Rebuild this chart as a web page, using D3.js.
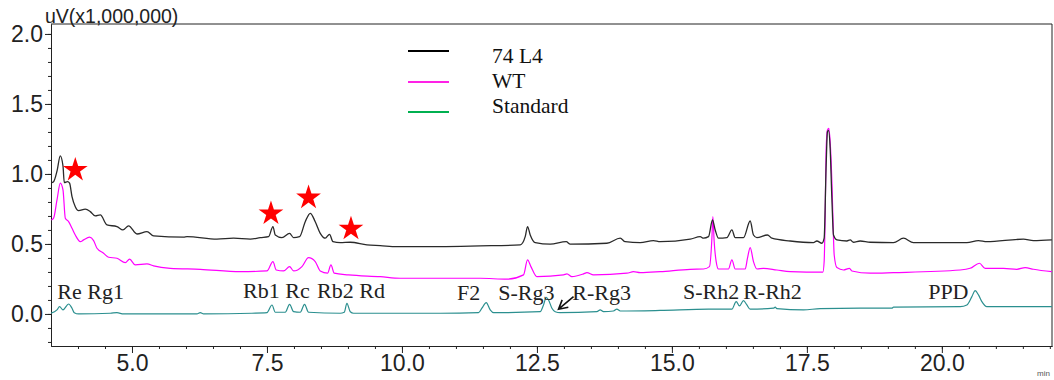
<!DOCTYPE html>
<html>
<head>
<meta charset="utf-8">
<script src="https://cdn.jsdelivr.net/npm/d3@7"></script>
<style>
  body { margin: 0; background: #fff; }
  svg { display: block; }
</style>
</head>
<body>
<svg id="chart" width="1054" height="380"></svg>
<script>
// Series names (legend order)
const seriesNames = ["74 L4", "WT", "Standard"];

// Chromatogram traces: [retention time (min), signal (uV x 1,000,000)]
const traceL4 = [
  [3.506,0.938],[3.548,0.945],[3.611,1.020],[3.672,1.129],[3.722,1.057],[3.746,0.938],
  [3.807,0.945],[3.844,0.934],[3.889,0.838],[3.950,0.766],[4.011,0.738],[4.135,0.748],
  [4.228,0.731],[4.320,0.700],[4.413,0.707],[4.537,0.636],[4.722,0.624],[4.833,0.600],
  [4.937,0.629],[5.093,0.571],[5.278,0.588],[5.400,0.557],[5.956,0.548],[6.019,0.552],
  [6.574,0.534],[6.881,0.541],[7.191,0.534],[7.376,0.545],[7.530,0.552],[7.611,0.624],
  [7.654,0.564],[7.778,0.545],[7.919,0.576],[7.993,0.545],[8.104,0.552],[8.209,0.659],
  [8.302,0.719],[8.394,0.659],[8.487,0.576],[8.580,0.541],[8.659,0.569],[8.722,0.516],
  [8.857,0.509],[9.043,0.512],[9.352,0.493],[9.598,0.488],[9.907,0.481],[10.709,0.481],
  [11.450,0.486],[12.191,0.493],[12.283,0.552],[12.326,0.624],[12.376,0.564],[12.469,0.509],
  [12.746,0.498],[13.043,0.516],[13.117,0.498],[13.796,0.505],[14.043,0.541],[14.135,0.516],
  [14.413,0.509],[14.659,0.524],[14.783,0.516],[15.339,0.534],[15.524,0.552],[15.585,0.541],
  [15.678,0.552],[15.752,0.671],[15.802,0.600],[15.863,0.541],[16.019,0.545],[16.111,0.600],
  [16.172,0.545],[16.326,0.545],[16.450,0.664],[16.511,0.564],[16.574,0.545],[16.770,0.564],
  [16.852,0.541],[17.191,0.521],[17.622,0.509],[17.685,0.521],[17.778,0.505],[17.820,0.541],
  [17.857,1.064],[17.881,1.302],[17.900,1.311],[17.931,1.184],[17.963,0.826],[17.993,0.564],
  [18.056,0.529],[18.241,0.521],[18.302,0.529],[18.363,0.512],[18.487,0.521],[18.672,0.512],
  [19.104,0.509],[19.289,0.541],[19.474,0.509],[20.463,0.509],[20.678,0.524],[20.833,0.516],
  [21.511,0.534],[21.696,0.524],[22.037,0.529]
];

const traceWT = [
  [3.506,0.671],[3.548,0.684],[3.611,0.814],[3.672,0.934],[3.722,0.886],[3.765,0.684],
  [3.826,0.659],[3.889,0.612],[3.950,0.564],[4.043,0.516],[4.104,0.529],[4.215,0.548],
  [4.289,0.524],[4.352,0.469],[4.474,0.434],[4.567,0.405],[4.722,0.398],[4.876,0.366],
  [4.956,0.391],[5.061,0.350],[5.278,0.357],[5.400,0.343],[5.709,0.326],[6.265,0.319],
  [7.006,0.302],[7.500,0.307],[7.611,0.374],[7.672,0.314],[7.807,0.307],[7.919,0.338],
  [7.993,0.307],[8.148,0.338],[8.270,0.402],[8.394,0.374],[8.487,0.307],[8.622,0.291],
  [8.685,0.350],[8.746,0.291],[9.011,0.279],[9.598,0.266],[9.969,0.255],[11.450,0.255],
  [11.944,0.248],[12.252,0.279],[12.326,0.386],[12.389,0.338],[12.500,0.266],[12.993,0.279],
  [13.056,0.286],[13.148,0.266],[13.363,0.286],[13.426,0.295],[13.548,0.279],[14.167,0.291],
  [14.289,0.302],[14.413,0.295],[14.783,0.302],[15.339,0.319],[15.585,0.321],[15.696,0.338],
  [15.741,0.541],[15.759,0.695],[15.783,0.516],[15.820,0.374],[15.863,0.321],[16.048,0.321],
  [16.111,0.386],[16.172,0.321],[16.357,0.321],[16.400,0.398],[16.450,0.474],[16.511,0.374],
  [16.574,0.321],[16.696,0.326],[16.944,0.314],[17.191,0.302],[17.796,0.298],[17.820,0.374],
  [17.839,0.707],[17.857,1.184],[17.881,1.314],[17.907,1.326],[17.931,1.231],[17.963,0.945],
  [17.981,0.707],[18.006,0.421],[18.056,0.331],[18.178,0.314],[18.289,0.326],[18.333,0.307],
  [18.672,0.291],[19.104,0.295],[20.339,0.314],[20.524,0.326],[20.696,0.362],[20.802,0.326],
  [21.141,0.326],[21.389,0.319],[21.543,0.331],[21.696,0.319],[22.037,0.302]
];

const traceStd = [
  [3.500,0.005],[3.611,0.029],[3.659,0.052],[3.722,0.029],[3.826,0.071],[3.889,0.041],
  [3.931,0.009],[4.011,0.000],[4.598,0.005],[4.722,0.009],[4.844,0.000],[6.204,0.000],
  [6.265,0.009],[6.326,0.000],[7.222,0.005],[7.500,0.009],[7.593,0.064],[7.654,0.012],
  [7.839,0.012],[7.919,0.069],[7.993,0.016],[8.117,0.012],[8.196,0.069],[8.270,0.012],
  [8.857,0.005],[8.931,0.012],[8.981,0.076],[9.043,0.016],[9.104,0.005],[9.907,0.005],
  [10.709,0.005],[11.419,0.009],[11.481,0.041],[11.561,0.081],[11.635,0.029],[11.696,0.009],
  [12.561,0.016],[12.622,0.064],[12.672,0.119],[12.715,0.100],[12.778,0.041],[12.839,0.016],
  [12.931,0.009],[13.611,0.016],[13.672,0.029],[13.733,0.016],[13.918,0.021],[13.981,0.034],
  [14.043,0.021],[14.783,0.025],[15.678,0.034],[16.111,0.034],[16.191,0.088],[16.252,0.057],
  [16.326,0.095],[16.389,0.064],[16.450,0.034],[16.881,0.041],[16.913,0.048],[16.944,0.038],
  [17.437,0.029],[17.746,0.038],[18.487,0.041],[19.074,0.041],[19.104,0.048],[20.339,0.052],
  [20.463,0.064],[20.556,0.124],[20.617,0.166],[20.678,0.136],[20.741,0.088],[20.833,0.052],
  [22.037,0.052]
];

// Axis ticks
const xTicks = [5, 7.5, 10, 12.5, 15, 17.5, 20];
const yTicks = [0, 0.5, 1.0, 1.5, 2.0];

// Compound names written above the standard trace
const compoundNames = ["Re", "Rg1", "Rb1", "Rc", "Rb2", "Rd", "F2", "S-Rg3", "R-Rg3", "S-Rh2", "R-Rh2", "PPD"];
// Where each compound name starts: [time, signal] of its baseline-left corner
const compoundAnchors = [
  [3.617,0.107],[4.172,0.107],[7.056,0.114],[7.839,0.114],[8.426,0.114],[9.209,0.114],
  [11.019,0.100],[11.783,0.100],[13.154,0.100],[15.204,0.107],[16.320,0.107],[19.746,0.107]
];

// Stars flagging the differing peaks: [time, signal] of star centre
const starAnchors = [[3.95,1.036],[7.574,0.725],[8.27,0.838],[9.056,0.616]];

// Arrow pointing at R-Rg3: tail and head in [time, signal]
const arrowTail = [13.178, 0.124];
const arrowHead = [12.90, 0.034];

// ---------- layout ----------
const margin = { left: 51, right: 1052, top: 24, bottom: 346 };
const colors = { l4: "#2a2a2a", wt: "#ff00ff", std: "#2b8f8f" };
const legendColors = ["#000000", "#ff22e6", "#00b050"];

const svg = d3.select("#chart");

const x = d3.scaleLinear().domain([3.5, 22.04]).range([margin.left, margin.right]);
const y = d3.scaleLinear().domain([-0.229, 2.071]).range([margin.bottom, margin.top]);

const sans = "'Liberation Sans', Arial, sans-serif";
const serif = "'Liberation Serif', 'Times New Roman', serif";

// Frame (top and right edges)
svg.append("path")
  .attr("d", `M${margin.left},${margin.top}H${margin.right}V${margin.bottom}`)
  .attr("fill", "none").attr("stroke", "#222").attr("stroke-width", 1);

// Minor ticks
const yMinor = d3.range(-0.2, 2.05, 0.1).map(v => +v.toFixed(1));
const xMinor = d3.range(4.0, 22.01, 0.5);

const yMinorAxis = svg.append("g").attr("transform", `translate(${margin.left},0)`)
  .call(d3.axisLeft(y).tickValues(yMinor).tickSize(3).tickSizeOuter(0).tickFormat(""));
const xMinorAxis = svg.append("g").attr("transform", `translate(0,${margin.bottom})`)
  .call(d3.axisBottom(x).tickValues(xMinor).tickSize(3).tickSizeOuter(0).tickFormat(""));

// Major axes
const yAxis = svg.append("g").attr("transform", `translate(${margin.left},0)`)
  .call(d3.axisLeft(y).tickValues(yTicks).tickSize(6).tickSizeOuter(0)
    .tickPadding(2).tickFormat(d3.format(".1f")));
const xAxis = svg.append("g").attr("transform", `translate(0,${margin.bottom})`)
  .call(d3.axisBottom(x).tickValues(xTicks).tickSize(7).tickSizeOuter(0)
    .tickPadding(2).tickFormat(d3.format(".1f")));

[yMinorAxis, xMinorAxis, yAxis, xAxis].forEach(g => {
  g.selectAll("path.domain").attr("stroke", "#222");
  g.selectAll(".tick line").attr("stroke", "#222");
});
[yAxis, xAxis].forEach(g => {
  g.selectAll("text").attr("font-family", sans).attr("font-size", 23).attr("fill", "#222");
});
yAxis.selectAll("text").attr("dy", "0.33em");

// Axis captions
svg.append("text").attr("x", 45).attr("y", 23)
  .attr("font-family", sans).attr("font-size", 19.5).attr("fill", "#222")
  .text("uV(x1,000,000)");
svg.append("text").attr("x", 1037).attr("y", 376)
  .attr("font-family", sans).attr("font-size", 8).attr("fill", "#555")
  .text("min");

// Traces
const line = d3.line().x(d => x(d[0])).y(d => y(d[1])).curve(d3.curveMonotoneX);
const traces = [
  { data: traceStd, color: colors.std, width: 1.2 },
  { data: traceWT, color: colors.wt, width: 1.2 },
  { data: traceL4, color: colors.l4, width: 1.3 }
];
const plotClip = svg.append("clipPath").attr("id", "plot-clip")
  .append("rect").attr("x", margin.left).attr("y", margin.top)
  .attr("width", margin.right - margin.left).attr("height", margin.bottom - margin.top);
svg.append("g").attr("clip-path", "url(#plot-clip)")
  .selectAll("path.trace").data(traces).join("path")
  .attr("class", "trace")
  .attr("d", d => line(d.data))
  .attr("fill", "none")
  .attr("stroke", d => d.color)
  .attr("stroke-width", d => d.width)
  .attr("stroke-linejoin", "round");

// Legend
const legendLineY = [51, 82, 112];
const legendTextY = [63, 88, 113];
const legend = svg.append("g");
seriesNames.forEach((name, i) => {
  legend.append("line")
    .attr("x1", 408).attr("x2", 449)
    .attr("y1", legendLineY[i]).attr("y2", legendLineY[i])
    .attr("stroke", legendColors[i]).attr("stroke-width", 2);
  legend.append("text")
    .attr("x", 492).attr("y", legendTextY[i])
    .attr("font-family", serif).attr("font-size", 21.5).attr("fill", "#111")
    .text(name);
});

// Compound names
svg.append("g").selectAll("text").data(compoundNames).join("text")
  .attr("x", (d, i) => x(compoundAnchors[i][0]))
  .attr("y", (d, i) => y(compoundAnchors[i][1]))
  .attr("font-family", serif).attr("font-size", 22).attr("fill", "#222")
  .text(d => d);

// Stars
function starPath(cx, cy, R) {
  const r = R * 0.382;
  const pts = [];
  for (let k = 0; k < 10; k++) {
    const a = -Math.PI / 2 + k * Math.PI / 5;
    const rad = k % 2 === 0 ? R : r;
    pts.push([cx + rad * Math.cos(a), cy + rad * Math.sin(a)]);
  }
  return "M" + pts.map(p => p.join(",")).join("L") + "Z";
}
svg.append("g").selectAll("path").data(starAnchors).join("path")
  .attr("d", d => starPath(x(d[0]), y(d[1]) + 1, 13))
  .attr("fill", "#ff0000");

// Arrow to R-Rg3
const ax0 = x(arrowTail[0]), ay0 = y(arrowTail[1]);
const ax1 = x(arrowHead[0]), ay1 = y(arrowHead[1]);
const ang = Math.atan2(ay0 - ay1, ax0 - ax1);
const headLen = 10, spread = 0.5;
svg.append("path")
  .attr("d", `M${ax0},${ay0}L${ax1},${ay1}` +
    `M${ax1 + headLen * Math.cos(ang - spread)},${ay1 + headLen * Math.sin(ang - spread)}` +
    `L${ax1},${ay1}` +
    `L${ax1 + headLen * Math.cos(ang + spread)},${ay1 + headLen * Math.sin(ang + spread)}`)
  .attr("fill", "none").attr("stroke", "#111").attr("stroke-width", 1.6);
</script>
</body>
</html>
